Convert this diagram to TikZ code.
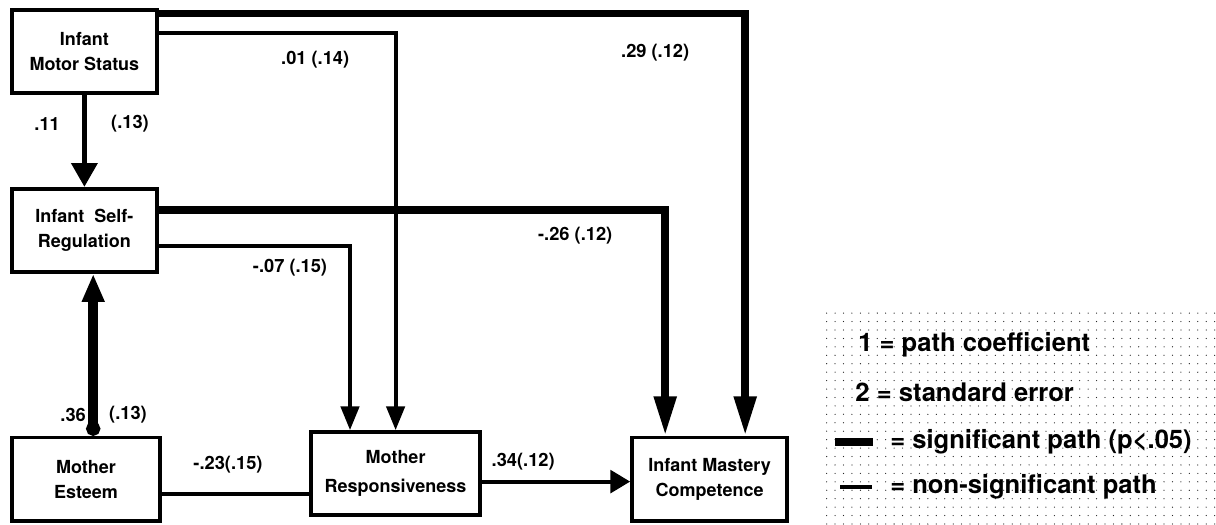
\documentclass[tikz,border=0pt]{standalone}
\usepackage{fontspec}
\setmainfont{TeX Gyre Heros}
\usetikzlibrary{arrows.meta, calc, patterns.meta}

\begin{document}
\begin{tikzpicture}[
    var/.style={draw, line width=2.6pt, align=center, inner sep=2pt,
                font=\bfseries\fontsize{12.8}{18}\selectfont,
                minimum height=2.08cm},
    coef/.style={font=\bfseries\fontsize{13}{15}\selectfont, inner sep=1pt},
    keytext/.style={anchor=west, font=\bfseries\fontsize{18.2}{20}\selectfont, inner sep=0pt},
    weak/.style={line width=2.8pt, -{Triangle[length=17pt,width=13pt]}},
    strong/.style={line width=5.5pt, -{Triangle[length=28pt,width=15pt]}},
]
\useasboundingbox (0,0) rectangle (30.4,13.1);
% variables
\node[var, minimum width=3.63cm] (motor)   at (2.11,11.81) {Infant\\Motor Status};
\node[var, minimum width=3.63cm] (selfreg) at (2.11,7.34)  {Infant \ Self-\\Regulation};
\node[var, minimum width=3.70cm] (esteem)  at (2.15,1.12)  {Mother\\Esteem};
\node[var, minimum width=4.23cm, font=\bfseries\fontsize{12.8}{21}\selectfont]
     (resp)    at (9.89,1.26)  {Mother\\Responsiveness};
\node[var, minimum width=3.88cm] (mastery) at (17.74,1.12) {Infant Mastery\\Competence};
% paths
\draw[strong] ([yshift=-0.13cm]motor.north east) -| ([xshift=0.89cm]mastery.north);
\draw[weak] ([yshift=-0.63cm]motor.north east) -| (resp.north);
\draw[line width=4pt, -{Triangle[length=17pt,width=18pt]}] (motor.south) -- (selfreg.north);
\draw[strong] ([yshift=-0.58cm]selfreg.north east) -| ([xshift=-1.11cm]mastery.north);
\draw[weak] ([yshift=-1.48cm]selfreg.north east) -| ([xshift=-1.14cm]resp.north);
\draw[line width=7pt, {Circle[length=10pt]}-{Triangle[length=20pt,width=15pt]}]
     ([xshift=1.8mm]esteem.north) coordinate (e0) -- (e0 |- selfreg.south);
\draw[line width=2.8pt] ([yshift=-3.6mm]esteem.east) -- ([yshift=-3.6mm]esteem.east -| resp.west);
\draw[weak, -{Triangle[length=14pt,width=16pt]}]
     ([yshift=-2mm]resp.east) -- ([yshift=-2mm]resp.east -| mastery.west);
% coefficients
\node[coef] (c-ms)  at (1.18,10.0)  {.11};
\node[coef] (s-ms)  at (3.25,10.0)  {(.13)};
\node[coef] (c-mr)  at (7.88,11.6)  {.01 (.14)};
\node[coef] (c-mm)  at (16.38,11.78) {.29 (.12)};
\node[coef] (c-sm)  at (14.38,7.2)  {-.26 (.12)};
\node[coef] (c-sr)  at (7.25,6.4)   {-.07 (.15)};
\node[coef] (c-es)  at (1.83,2.73)  {.36};
\node[coef] (s-es)  at (3.2,2.73)   {(.13)};
\node[coef] (c-er)  at (5.7,1.48)   {-.23(.15)};
\node[coef] (c-rm)  at (13.08,1.55) {.34(.12)};
% key
\fill[pattern={Dots[distance=6pt,radius=0.45pt]}, pattern color=black!85]
     (20.63,0) rectangle (30.4,5.3);
\node[keytext] (key1) at (21.45,4.48) {1 = path coefficient};
\node[keytext] (key2) at (21.38,3.3)  {2 = standard error};
\node[keytext] (key3) at (22.25,2.05) {= significant path (p<.05)};
\node[keytext] (key4) at (22.25,0.93) {= non-significant path};
\coordinate (k3a) at (20.88,2.05);
\coordinate (k3b) at (21.83,2.05);
\coordinate (k4a) at (21.0,0.93);
\coordinate (k4b) at (21.8,0.93);
\draw[line width=5.5pt] (k3a) -- (k3b);
\draw[line width=2.8pt] (k4a) -- (k4b);
\end{tikzpicture}
\end{document}
